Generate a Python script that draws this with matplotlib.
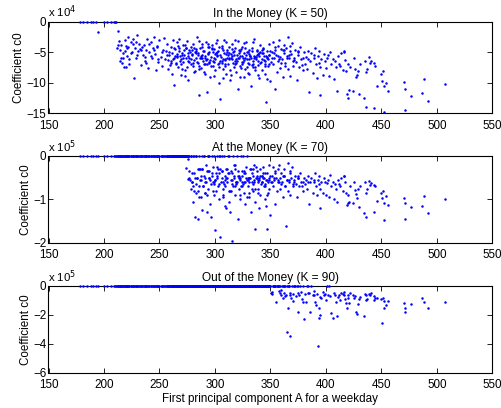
import matplotlib
matplotlib.use("Agg")
import matplotlib.pyplot as plt

# first principal component A (shared by all three strikes)
pc_a = [
    178, 181, 185, 188, 190, 193, 195, 200, 203, 206,
    209, 210, 211, 212, 213, 213.5, 214, 215, 216, 217,
    218, 218.5, 219, 220, 221, 221.5, 222, 223, 224, 225,
    226, 227, 228, 229, 230, 231, 232, 233, 234, 235,
    236, 237, 238, 239, 240, 241, 242, 243, 244, 245,
    246, 247, 248, 249, 250, 251, 252, 253, 254, 255,
    256, 257, 258, 259, 260, 260.5, 261, 262, 263, 263.5,
    264, 265, 265.5, 266, 267, 267.5, 268, 269, 269.5, 270,
    271, 271.5, 272, 273, 273.5, 274, 275, 275.5, 276, 277,
    278, 278.5, 279, 280, 280.5, 281, 282, 282.5, 283, 284,
    284.5, 285, 286, 286.5, 287, 288, 288.5, 289, 290, 290.5,
    291, 292, 292.5, 293, 294, 294.5, 295, 296, 296.5, 297,
    298, 298.5, 299, 300, 300.5, 301, 302, 302.5, 303, 304,
    304.5, 305, 306, 306.5, 307, 308, 308.5, 309, 310, 310.5,
    311, 312, 312.5, 313, 314, 314.5, 315, 316, 316.5, 317,
    318, 318.5, 319, 320, 320.5, 321, 322, 322.5, 323, 324,
    324.5, 325, 326, 326.5, 327, 328, 328.5, 329, 330, 330.5,
    331, 332, 332.5, 333, 334, 334.5, 335, 336, 336.5, 337,
    338, 338.5, 339, 340, 340.5, 341, 342, 342.5, 343, 344,
    344.5, 345, 346, 346.5, 347, 348, 348.5, 349, 350, 350.5,
    351, 352, 352.5, 353, 354, 354.5, 355, 356, 356.5, 357,
    358, 358.5, 359, 360, 360.5, 361, 362, 362.5, 363, 364,
    365, 365.5, 366, 367, 367.5, 368, 369, 369.5, 370, 371,
    372, 373, 374, 375, 376, 377, 378, 379, 380, 381,
    382, 383, 384, 385, 386, 387, 388, 389, 390, 391,
    392, 393, 393.5, 394, 394.5, 395, 396, 397, 398, 399,
    400, 401, 402, 403, 404, 405, 406, 407, 408, 409,
    410, 411, 412, 413, 414, 415, 416, 416.5, 417, 418,
    419, 419.5, 420, 421, 422, 424, 425, 426, 427, 428,
    429, 429.5, 431, 434, 435, 436, 436.5, 437, 439, 440,
    441, 443, 443.5, 444, 446, 450, 450.5, 451.5, 452, 452.5,
    454.6, 456, 470.8, 471, 471.4, 477, 487, 488, 492, 507,
    215.5, 219.5, 222.5, 226.5, 229.5, 233.5, 237.5, 242.5, 247.5, 252.5,
    257.5, 261.5, 264.5, 266.5, 268.5, 270.5, 272.5, 274.5, 276.5, 277.5,
    279.5, 281.5, 283.5, 285.5, 287.5, 289.5, 291.5, 293.5, 295.5, 297.5,
    299.5, 301.5, 303.5, 305.5, 307.5, 309.5, 311.5, 313.5, 315.5, 317.5,
    319.5, 321.5, 323.5, 325.5, 327.5, 329.5, 331.5, 333.5, 335.5, 337.5,
    339.5, 341.5, 343.5, 345.5, 347.5, 349.5, 262.5, 266.2, 270.2, 274.2,
    278.2, 282.2, 286.2, 290.2, 294.2, 298.2, 302.2, 306.2, 310.2, 314.2,
    318.2, 322.2, 326.2, 330.2, 334.2, 338.2, 342.2, 346.2, 288.8, 296.8,
    304.8, 312.8, 320.8, 328.8, 336.8, 344.8, 308.8, 316.8, 324.8, 332.8,
    340.8, 348.8, 300.8, 292.8, 284.8, 276.8, 268.8, 260.8, 256.8, 248.8,
    244.8, 240.8, 236.8, 232.8, 228.8, 224.8, 220.8, 216.8, 212.8, 214.8,
    353.5, 357.5, 361.5, 363.5, 366.5, 370.5, 374.5, 378.5, 383.5, 389.5,
    258.3, 262.7, 265.8, 269.3, 272.8, 275.8, 279.3, 282.8, 285.3, 288.3,
    291.3, 294.8, 297.3, 300.3, 303.3, 306.8, 309.3, 312.3, 315.3, 318.8,
    321.3, 324.3, 327.8, 330.8, 333.3, 336.3, 339.3, 342.8, 345.3, 348.3,
    351.3, 354.3, 356.8, 359.3, 362.3, 364.8, 367.3, 371.3, 375.3, 379.3,
    259.6, 264.1, 267.6, 271.1, 276.1, 280.6, 283.1, 287.1, 291.6, 295.1,
    299.1, 303.6, 307.1, 311.1, 315.1, 319.1, 323.1, 327.1, 331.1, 335.1,
    339.1, 343.1, 347.1, 285.9, 293.9, 301.9, 309.9, 317.9, 325.9, 333.9,
    290.9, 298.9, 306.9, 314.9, 322.9, 330.9, 338.9, 346.9, 280.9, 272.9,
]

# coefficient c0, K = 50 (units of 1e4)
c0_k50 = [
    0, 0, 0, 0, 0, 0, -1.7, 0, 0, 0,
    0, 0, 0, -4.3, -1.5, -3.2, -4.6, -3.8, -6.7, -5.2,
    -7.4, -4.8, -3.0, -7.4, -5.6, -2.6, -4.1, -6.2, -3.4, -5.0,
    -2.8, -9.3, -4.4, -6.0, -2.2, -4.9, -3.6, -7.1, -4.2, -5.5,
    -3.9, -6.4, -4.7, -2.9, -7.6, -5.0, -3.3, -6.0, -4.4, -2.6,
    -5.3, -7.9, -4.0, -6.6, -3.1, -5.8, -7.3, -4.6, -2.7, -6.1,
    -4.8, -3.6, -7.7, -5.4, -4.2, -6.4, -8.5, -3.0, -10.3, -5.9,
    -4.5, -6.8, -3.4, -5.6, -7.4, -4.9, -2.9, -6.2, -8.8, -5.1,
    -3.8, -6.6, -5.4, -7.9, -4.3, -6.0, -3.2, -5.7, -9.5, -4.7,
    -6.9, -4.1, -5.3, -7.2, -3.6, -6.3, -8.1, -4.8, -5.9, -2.5,
    -6.8, -5.1, -12.0, -4.4, -7.6, -5.5, -3.7, -6.4, -8.3, -4.9,
    -6.0, -3.3, -7.0, -11.5, -5.2, -4.2, -6.7, -9.1, -5.8, -3.9,
    -7.3, -5.0, -4.5, -6.2, -8.0, -3.5, -5.7, -6.9, -4.8, -10.0,
    -5.4, -12.7, -6.5, -4.0, -7.8, -5.1, -3.0, -6.3, -8.6, -4.6,
    -5.9, -7.0, -4.2, -6.1, -9.6, -5.3, -3.6, -6.8, -5.0, -7.5,
    -4.4, -6.4, -8.2, -5.5, -3.2, -11.0, -6.0, -4.9, -7.2, -5.7,
    -4.1, -6.6, -9.0, -5.2, -7.7, -3.4, -6.2, -5.0, -8.4, -4.7,
    -6.9, -5.6, -10.5, -4.3, -6.4, -7.5, -2.8, -5.8, -8.0, -6.1,
    -4.6, -7.1, -5.3, -9.3, -3.9, -6.7, -5.1, -7.9, -4.4, -6.3,
    -5.6, -8.6, -13.2, -4.9, -6.0, -7.3, -3.6, -5.4, -9.8, -6.6,
    -5.0, -3.3, -7.0, -6.0, -4.6, -11.0, -5.5, -8.2, -4.0, -6.5,
    -3.0, -5.8, -7.6, -4.5, -6.2, -9.0, -5.1, -3.8, -6.8, -4.3,
    -5.6, -7.8, -2.6, -6.0, -4.9, -8.9, -5.3, -3.5, -7.2, -5.9,
    -4.7, -6.6, -9.6, -5.5, -7.4, -4.2, -6.2, -8.0, -5.0, -6.9,
    -5.8, -7.7, -4.8, -11.5, -6.5, -5.2, -8.4, -6.0, -4.4, -7.0,
    -9.2, -5.6, -6.7, -4.9, -12.0, -7.4, -6.1, -8.7, -5.3, -6.4,
    -7.6, -6.0, -5.4, -8.9, -5.0, -7.0, -6.2, -9.4, -6.5, -7.5,
    -11.4, -5.6, -6.9, -7.3, -5.2, -8.0, -4.8, -5.0, -6.3, -8.1,
    -11.9, -12.5, -6.9, -11.2, -7.4, -11.3, -6.0, -7.8, -9.0, -8.8,
    -8.1, -11.9, -7.0, -12.5, -6.4, -13.9, -8.3, -7.7, -5.8, -6.8,
    -6.5, -14.1, -6.8, -7.2, -10.6, -8.6, -9.7, -8.1, -10.6, -14.8,
    -10.0, -11.4, -9.9, -11.1, -14.4, -12.2, -11.7, -9.4, -13.0, -10.2,
    -5.9, -4.0, -7.0, -3.7, -5.4, -4.6, -6.8, -5.6, -4.1, -5.0,
    -6.3, -5.2, -7.0, -4.0, -6.5, -5.5, -4.6, -7.4, -6.0, -5.0,
    -5.5, -4.3, -6.6, -7.8, -5.9, -4.8, -7.0, -5.3, -6.3, -4.5,
    -6.6, -5.0, -7.4, -5.8, -4.6, -6.9, -5.4, -7.9, -6.1, -4.9,
    -6.4, -5.2, -7.6, -5.9, -4.4, -6.8, -5.6, -7.1, -6.0, -4.8,
    -5.7, -6.6, -5.1, -7.3, -6.2, -4.9, -6.1, -5.3, -7.7, -4.4,
    -6.2, -5.0, -5.9, -6.9, -4.2, -6.4, -5.5, -6.7, -5.3, -6.0,
    -7.0, -5.7, -6.3, -5.0, -6.9, -5.4, -6.2, -5.6, -6.0, -7.2,
    -6.5, -5.1, -6.0, -7.5, -5.8, -6.4, -6.1, -5.4, -6.6, -5.9,
    -5.0, -7.0, -5.2, -6.2, -5.4, -6.6, -5.7, -6.8, -5.5, -6.1,
    -4.7, -3.7, -5.8, -4.5, -3.3, -5.1, -4.3, -5.9, -3.9, -6.4,
    -5.1, -6.2, -4.7, -7.3, -5.5, -6.4, -5.0, -7.1, -6.2, -5.4,
    -5.0, -4.4, -5.8, -6.9, -3.9, -6.4, -4.7, -5.2, -7.2, -4.1,
    -5.7, -6.6, -4.4, -5.3, -6.7, -4.3, -7.2, -5.9, -4.5, -6.1,
    -4.6, -7.0, -5.5, -6.2, -4.9, -7.4, -5.2, -4.7, -6.9, -5.5,
    -6.0, -4.2, -5.6, -6.8, -4.6, -5.9, -4.0, -6.3, -4.8, -6.0,
    -7.1, -5.6, -4.3, -6.0, -5.2, -6.8, -4.5, -5.6, -6.3, -5.0,
    -5.9, -4.2, -6.2, -5.0, -5.6, -6.7, -4.5, -6.0, -5.3, -5.7,
    -6.4, -4.5, -5.8, -3.2, -3.6, -3.1, -3.4, -3.0, -3.5, -3.3,
    -8.6, -8.9, -9.3, -8.7, -9.1, -8.5, -8.8, -9.4, -8.2, -8.9,
]

# coefficient c0, K = 70 (units of 1e5)
c0_k70 = [
    0, 0, 0, 0, 0, 0, 0, 0, 0, 0,
    0, 0, 0, 0, 0, 0, 0, 0, 0, 0,
    0, 0, 0, 0, 0, 0, 0, 0, 0, 0,
    0, 0, 0, 0, 0, 0, 0, 0, 0, 0,
    0, 0, 0, 0, 0, 0, 0, 0, 0, 0,
    0, 0, 0, 0, 0, 0, 0, 0, 0, 0,
    0, 0, 0, 0, 0, 0, 0, 0, 0, 0,
    0, 0, 0, 0, 0, 0, 0, 0, 0, 0,
    0, 0, 0, 0, 0, -0.27, 0, -0.52, -0.08, 0,
    -0.75, 0, -0.6, -1.05, 0, -0.4, -1.4, 0, -0.85, -0.5,
    -1.45, -0.8, 0, -0.55, -0.95, 0, -0.3, -0.7, -0.45, 0,
    -0.6, -0.2, -1.3, -0.9, 0, -0.5, -0.35, -1.1, -0.65, 0,
    -0.25, -0.8, 0, -1.7, -0.55, -0.4, 0, -0.7, -0.3, -1.0,
    0, -1.86, -0.5, -0.35, -0.9, 0, -0.65, -0.45, -1.2, -0.3,
    -0.6, 0, -0.8, -0.4, -1.3, -0.55, -1.95, -0.7, 0, -0.5,
    -0.3, -0.9, -0.6, 0, -0.45, -1.45, -0.75, -0.5, -1.0, -0.35,
    -0.6, 0, -0.85, -0.4, -1.1, -0.25, -0.55, 0, -0.7, -0.5,
    -0.95, -0.3, -1.3, -0.6, -0.45, -0.8, -0.2, -1.69, -1.05, -0.5,
    -0.35, -0.75, -0.55, -1.2, -0.3, -0.9, -0.45, -0.6, -0.25, -0.7,
    -0.5, -1.0, -1.15, -0.4, -1.68, -0.85, -0.2, -0.55, -1.35, -0.6,
    -0.45, -0.25, -0.7, -0.55, -0.35, -1.1, -0.5, -0.8, -0.3, -0.6,
    -0.2, -0.5, -0.75, -0.4, -0.6, -0.95, -0.45, -0.3, -0.7, -1.61,
    -0.55, -0.8, -0.15, -0.6, -0.4, -0.9, -0.5, -0.25, -0.7, -0.55,
    -0.45, -0.65, -0.95, -0.5, -0.7, -0.4, -0.6, -0.8, -0.5, -0.65,
    -0.55, -0.75, -0.45, -1.1, -0.6, -0.5, -0.85, -0.6, -0.4, -0.7,
    -0.9, -0.55, -0.65, -0.45, -1.2, -0.75, -0.6, -0.85, -0.5, -0.6,
    -0.9, -0.62, -0.55, -0.95, -0.44, -0.7, -0.6, -1.0, -0.65, -0.75,
    -1.05, -0.55, -0.64, -0.7, -0.5, -0.8, -0.46, -0.46, -0.6, -0.85,
    -1.13, -1.08, -0.9, -1.05, -0.7, -1.09, -0.6, -0.78, -0.88, -0.98,
    -0.77, -1.18, -0.7, -1.31, -0.6, -1.41, -0.85, -0.77, -0.57, -0.67,
    -0.62, -1.29, -0.67, -0.7, -1.03, -0.85, -0.96, -0.81, -1.09, -1.48,
    -0.92, -1.14, -0.97, -1.08, -1.46, -1.18, -1.15, -0.92, -1.32, -1.0,
    0, 0, 0, 0, 0, 0, 0, 0, 0, 0,
    0, 0, 0, 0, 0, 0, 0, 0, -0.35, -0.55,
    -0.6, 0, -0.5, -0.95, -0.45, -0.7, -0.85, 0, -0.55, -0.4,
    -0.65, -0.5, 0, -0.6, -0.75, -0.55, -0.4, -0.8, -0.65, -0.45,
    -0.6, -0.5, -0.7, -0.65, -0.4, -0.55, -0.5, -0.75, -0.6, -0.45,
    -0.55, -0.65, -0.5, -0.7, -0.6, -0.45, 0, 0, 0, 0,
    0, -0.5, -0.3, 0, -0.75, -0.6, -0.45, 0, -0.5, -0.35,
    -0.7, -0.55, -0.6, -0.5, -0.65, -0.5, -0.6, -0.55, -1.25, -1.4,
    -0.3, -1.05, -0.35, -0.95, -0.25, -0.4, -1.15, -0.2, -0.45, -0.3,
    -0.45, -0.75, -0.8, -0.35, -0.3, -0.5, 0, 0, 0, 0,
    0, 0, 0, 0, 0, 0, 0, 0, 0, 0,
    -0.5, -0.6, -0.45, -0.7, -0.55, -0.65, -0.5, -0.7, -0.6, -0.55,
    0, 0, 0, 0, 0, 0, -0.4, -0.65, -0.7, -0.3,
    -0.5, 0, -0.45, -0.55, -0.65, -0.35, -0.7, 0, -0.4, -0.6,
    -0.45, -0.7, -0.5, -0.6, -0.4, -0.75, -0.5, -0.45, -0.65, -0.5,
    -0.6, -0.4, -0.55, -0.65, -0.45, -0.55, -0.35, -0.6, -0.45, -0.6,
    0, 0, 0, 0, 0, -0.7, 0, -0.55, -0.6, -0.5,
    -0.6, -0.4, -0.6, -0.5, -0.55, -0.65, 0, -0.6, -0.5, -0.55,
    -0.6, -0.4, -0.55, -0.3, -0.35, -0.25, -0.3, -0.2, -0.35, -0.3,
    -0.85, -0.9, -0.95, -0.8, -0.9, -0.85, -0.85, -0.9, -0.8, 0,
]

# coefficient c0, K = 90 (units of 1e5)
c0_k90 = [
    0, 0, 0, 0, 0, 0, 0, 0, 0, 0,
    0, 0, 0, 0, 0, 0, 0, 0, 0, 0,
    0, 0, 0, 0, 0, 0, 0, 0, 0, 0,
    0, 0, 0, 0, 0, 0, 0, 0, 0, 0,
    0, 0, 0, 0, 0, 0, 0, 0, 0, 0,
    0, 0, 0, 0, 0, 0, 0, 0, 0, 0,
    0, 0, 0, 0, 0, 0, 0, 0, 0, 0,
    0, 0, 0, 0, 0, 0, 0, 0, 0, 0,
    0, 0, 0, 0, 0, 0, 0, 0, 0, 0,
    0, 0, 0, 0, 0, 0, 0, 0, 0, 0,
    0, 0, 0, 0, 0, 0, 0, 0, 0, 0,
    0, 0, 0, 0, 0, 0, 0, 0, 0, 0,
    0, 0, 0, 0, 0, 0, 0, 0, 0, 0,
    0, 0, 0, 0, 0, 0, 0, 0, 0, 0,
    0, 0, 0, 0, 0, 0, 0, 0, 0, 0,
    0, 0, 0, 0, 0, 0, 0, 0, 0, 0,
    0, 0, 0, 0, 0, 0, 0, 0, 0, 0,
    0, 0, 0, 0, 0, 0, 0, 0, 0, 0,
    0, 0, 0, 0, 0, 0, 0, 0, 0, 0,
    0, 0, 0, 0, 0, 0, 0, 0, 0, -0.5,
    -0.52, 0, 0, 0, 0, 0, -1.1, 0, 0, 0,
    0, -0.45, 0, -0.64, 0, -0.86, -0.5, 0, 0, -0.64,
    -3.18, 0, -1.5, 0, -0.5, -3.48, -0.8, 0, -1.05, 0,
    0, -0.7, 0, -1.77, -0.59, 0, -0.4, -1.09, -2.27, -0.52,
    -1.09, 0, -0.45, -0.48, -1.77, 0, -0.64, -0.35, -1.09, -1.32,
    -0.55, -4.18, -1.55, -2.23, -2.0, -0.75, -0.82, -0.4, -0.6, -0.52,
    -0.98, 0, -0.64, 0, -0.7, -1.89, -2.23, -0.5, -0.59, -1.09,
    -2.1, -0.75, -0.64, -1.0, -0.45, -0.52, -0.4, -0.6, -0.91, -1.2,
    -1.55, -0.8, -0.64, -1.2, -0.5, -0.64, -0.86, -0.7, -1.77, -1.96,
    -1.27, -0.9, -0.75, -2.1, -0.55, -0.59, -1.0, -0.91, -0.52, -0.6,
    -0.5, -0.98, -0.7, -0.85, -0.8, -0.91, -2.57, -0.82, -1.55, -1.05,
    -1.32, -1.05, -1.2, -1.55, -1.77, -1.27, -0.82, -1.14, -1.5, -1.09,
    0, 0, 0, 0, 0, 0, 0, 0, 0, 0,
    0, 0, 0, 0, 0, 0, 0, 0, 0, 0,
    0, 0, 0, 0, 0, 0, 0, 0, 0, 0,
    0, 0, 0, 0, 0, 0, 0, 0, 0, 0,
    0, 0, 0, 0, 0, 0, 0, 0, 0, 0,
    0, 0, 0, 0, 0, 0, 0, 0, 0, 0,
    0, 0, 0, 0, 0, 0, 0, 0, 0, 0,
    0, 0, 0, 0, 0, 0, 0, 0, 0, 0,
    0, 0, 0, 0, 0, 0, 0, 0, 0, 0,
    0, 0, 0, 0, 0, 0, 0, 0, 0, 0,
    0, 0, 0, 0, 0, 0, 0, 0, 0, 0,
    0, -0.35, 0, -0.7, 0, -0.55, 0, -0.9, 0, -0.6,
    0, 0, 0, 0, 0, 0, 0, 0, 0, 0,
    0, 0, 0, 0, 0, 0, 0, 0, 0, 0,
    0, 0, 0, 0, 0, 0, 0, 0, 0, 0,
    -0.4, 0, 0, -0.3, 0, 0, -0.6, 0, -0.45, 0,
    0, 0, 0, 0, 0, 0, 0, 0, 0, 0,
    0, 0, 0, 0, 0, 0, 0, 0, 0, 0,
    0, 0, 0, 0, 0, 0, 0, 0, 0, 0,
    0, 0, 0, 0, 0, 0, 0, 0, 0, 0,
]

titles = ["In the Money (K = 50)", "At the Money (K = 70)", "Out of the Money (K = 90)"]
exponents = [4, 5, 5]
ylims = [(-15, 0), (-2, 0), (-6, 0)]
yticks = [[-15, -10, -5, 0], [-2, -1, 0], [-6, -4, -2, 0]]
xticks = [150, 200, 250, 300, 350, 400, 450, 500, 550]

plt.rcParams['font.family'] = ['Liberation Sans', 'DejaVu Sans']

fig = plt.figure(figsize=(5.02, 4.08), dpi=100)
W, H = 502.0, 408.0
# axes boxes in pixels: (top, bottom)
boxes = [(21.5, 113.3), (156.0, 242.7), (286.0, 372.7)]
left, right = 48.5, 492.3

series = [c0_k50, c0_k70, c0_k90]
for i, (top, bot) in enumerate(boxes):
    ax = fig.add_axes([left / W, 1 - bot / H, (right - left) / W, (bot - top) / H])
    # dots sit above the frame so the c0 = 0 cases show on the top edge
    ax.plot(pc_a, series[i], '.', color='#0000ff', markersize=3.6,
            markeredgewidth=0, clip_on=False, zorder=3)
    ax.set_xlim(150, 550)
    ax.set_ylim(*ylims[i])
    ax.set_xticks(xticks)
    ax.set_yticks(yticks[i])
    ax.set_yticklabels(['\u2212' + str(-t) if t < 0 else str(t) for t in yticks[i]])
    ax.tick_params(direction='in', length=3.5, width=0.6, labelsize=8.4,
                   top=True, right=True, colors='black')
    ax.tick_params(axis='x', pad=4.5)
    ax.tick_params(axis='y', pad=1.5)
    for sp in ax.spines.values():
        sp.set_linewidth(0.8)
    ax.set_title(titles[i], fontsize=8.6, pad=3.5)
    ax.set_ylabel('Coefficient c0', fontsize=8.4, labelpad=1)
    ax.text(0.0, 1.015, 'x 10$^{%d}$' % exponents[i], transform=ax.transAxes,
            fontsize=8.2, ha='left', va='bottom')
    if i == 2:
        ax.set_xlabel('First principal component A for a weekday', fontsize=8.4, labelpad=1.5)

fig.savefig('out.png', dpi=100)
